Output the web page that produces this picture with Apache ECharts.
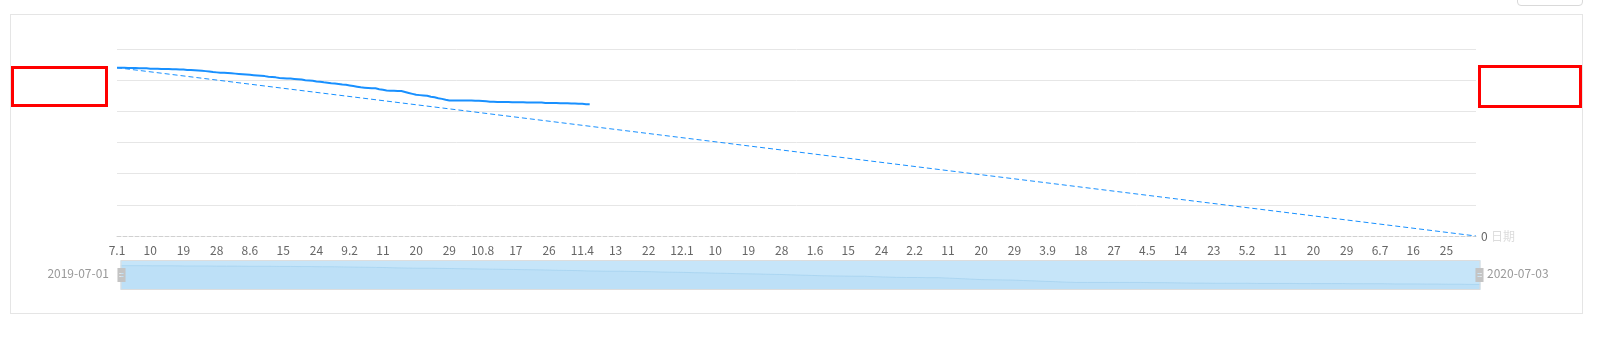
<!DOCTYPE html>
<html>
<head>
<meta charset="utf-8">
<script src="https://cdn.jsdelivr.net/npm/echarts@6/dist/echarts.min.js"></script>
<style>
  html, body { margin: 0; padding: 0; background: #fff; width: 1603px; height: 345px; overflow: hidden; }
  #box { position: absolute; left: 10px; top: 14px; width: 1571px; height: 298px; border: 1px solid #e5e5e5; }
  #chart { width: 1571px; height: 298px; }
  #btn { position: absolute; left: 1517px; top: -22px; width: 64px; height: 26px; border: 1px solid #d9d9d9; border-radius: 4px; background: #fff; }
  .redbox { position: absolute; border: 3px solid #ff0000; box-sizing: border-box; }
</style>
</head>
<body>
<div id="btn"></div>
<div id="box"><div id="chart"></div></div>
<div class="redbox" style="left:11px;top:66px;width:97px;height:41px;"></div>
<div class="redbox" style="left:1478px;top:65px;width:104px;height:43px;"></div>
<script>
// ---- data ----
const startDate = '2019-07-01';
const endDate = '2020-07-03';

// remaining work (actual), one value per day from 2019-07-01
const actualValues = [
  54.0,54.0,54.0,53.9,53.9,53.9,53.8,53.8,53.8,53.7,53.7,53.7,53.6,53.6,
  53.6,53.5,53.5,53.4,53.4,53.3,53.3,53.2,
  53.1,53.0,52.9,52.8,52.6,52.5,52.4,
  52.4,52.3,52.2,52.1,52.0,51.9,51.8,51.7,
  51.6,51.5,51.4,51.3,51.1,51.0,50.9,50.7,
  50.6,50.5,50.5,50.4,
  50.3,50.2,50.0,49.9,49.8,49.6,49.5,
  49.3,49.2,49.0,48.9,
  48.8,48.6,48.5,
  48.3,48.1,47.9,47.7,
  47.6,47.5,47.4,47.4,
  47.1,46.9,46.7,
  46.6,46.6,46.5,46.5,
  46.2,45.9,45.6,45.3,
  45.2,45.1,45.0,
  44.7,44.5,44.2,44.0,
  43.7,43.5,
  43.5,43.5,43.5,43.5,43.5,43.5,43.4,43.4,
  43.3,43.2,43.1,
  43.1,43.0,43.0,43.0,43.0,
  42.9,42.9,42.9,42.9,42.8,42.8,42.8,42.8,42.8,
  42.7,42.7,42.7,42.7,42.6,42.6,42.6,
  42.5,42.5,42.4,42.4,42.3,42.3
];

// ideal line: start value and end value
const idealStart = 54.0;
const idealEnd = 0;

const tickLabels = ['7.1','10','19','28','8.6','15','24','9.2','11','20','29','10.8','17','26','11.4','13','22','12.1','10','19','28','1.6','15','24','2.2','11','20','29','3.9','18','27','4.5','14','23','5.2','11','20','29','6.7','16','25'];

const yMax = 60;
const yInterval = 10;

// ---- categories (every day from start to end) ----
function pad(n) { return n < 10 ? '0' + n : '' + n; }
const categories = [];
{
  const d = new Date(startDate + 'T00:00:00Z');
  const e = new Date(endDate + 'T00:00:00Z');
  while (d <= e) {
    categories.push(d.getUTCFullYear() + '-' + pad(d.getUTCMonth() + 1) + '-' + pad(d.getUTCDate()));
    d.setUTCDate(d.getUTCDate() + 1);
  }
}
const labelStep = 9;
const labelByDate = {};
tickLabels.forEach((t, i) => { labelByDate[categories[i * labelStep]] = t; });

const FONT = 'Noto Sans CJK SC';
const DZ_LEFT = 107, DZ_RIGHT = 104, DZ_TOP = 245, DZ_H = 30;
const chartEl = document.getElementById('chart');
const chart = echarts.init(chartEl, null, { renderer: 'canvas' });
const W = chartEl.clientWidth;
chart.setOption({
  animation: false,
  textStyle: { fontFamily: FONT },
  grid: { left: 106, right: 106, top: 34, bottom: 77, containLabel: false },
  xAxis: {
    type: 'category',
    data: categories,
    boundaryGap: false,
    name: '日期',
    nameLocation: 'end',
    nameGap: 15,
    nameTextStyle: { color: '#dcdcdc', fontSize: 12, fontFamily: FONT },
    axisLine: { show: true, lineStyle: { color: '#d0d0d0', type: 'dashed', width: 1 } },
    axisTick: { show: false },
    axisLabel: {
      interval: labelStep - 1,
      color: '#666',
      fontSize: 12,
      fontFamily: FONT,
      margin: 8,
      formatter: v => labelByDate[v] !== undefined ? labelByDate[v] : ''
    },
    splitLine: { show: false }
  },
  yAxis: {
    type: 'value',
    min: 0,
    max: yMax,
    interval: yInterval,
    axisLine: { show: false },
    axisTick: { show: false },
    axisLabel: { show: false },
    splitLine: { show: true, showMinLine: false, lineStyle: { color: '#e6e6e6', width: 1 } }
  },
  dataZoom: [{
    type: 'slider',
    xAxisIndex: 0,
    start: 0,
    end: 100,
    left: DZ_LEFT,
    right: DZ_RIGHT,
    top: DZ_TOP,
    height: DZ_H,
    showDataShadow: true,
    brushSelect: false,
    moveHandleSize: 0,
    borderColor: '#dddddd',
    borderRadius: 0,
    backgroundColor: 'rgba(0,0,0,0)',
    fillerColor: 'rgba(135,200,242,0.48)',
    handleIcon: 'path://M0,0 H8 V14 H0 Z M2,5 V6 H6 V5 Z M2,8 V9 H6 V8 Z',
    handleSize: '47%',
    handleStyle: { color: '#c4c4c4', borderColor: '#c4c4c4', borderWidth: 0 },
    dataBackground: {
      lineStyle: { color: '#90c0e0', width: 0.6, opacity: 0.7 },
      areaStyle: { color: '#7fb5da', opacity: 0.14 }
    },
    selectedDataBackground: {
      lineStyle: { color: '#90c0e0', width: 0.6, opacity: 0.7 },
      areaStyle: { color: '#7fb5da', opacity: 0.14 }
    },
    showDetail: false
  }],
  graphic: [{
    type: 'text',
    right: W - DZ_LEFT + 9,
    top: DZ_TOP + DZ_H / 2 - 8,
    style: { text: categories[0], fill: '#999', font: '12px "' + FONT + '"' }
  }, {
    type: 'text',
    left: W - DZ_RIGHT + 9,
    top: DZ_TOP + DZ_H / 2 - 8,
    style: { text: categories[categories.length - 1], fill: '#999', font: '12px "' + FONT + '"' }
  }],
  series: [{
    name: 'actual',
    type: 'line',
    data: actualValues,
    showSymbol: false,
    symbol: 'none',
    lineStyle: { color: '#1890ff', width: 2 },
    itemStyle: { color: '#1890ff' }
  }, {
    name: 'ideal',
    type: 'line',
    data: [[0, idealStart], [categories.length - 1, idealEnd]],
    showSymbol: false,
    symbol: 'none',
    lineStyle: { color: '#1890ff', width: 1, type: [5, 3] },
    itemStyle: { color: '#1890ff' },
    endLabel: {
      show: true,
      distance: 5,
      color: '#666',
      fontSize: 12,
      fontFamily: FONT,
      formatter: p => String(p.value[1])
    }
  }]
});
</script>
</body>
</html>
